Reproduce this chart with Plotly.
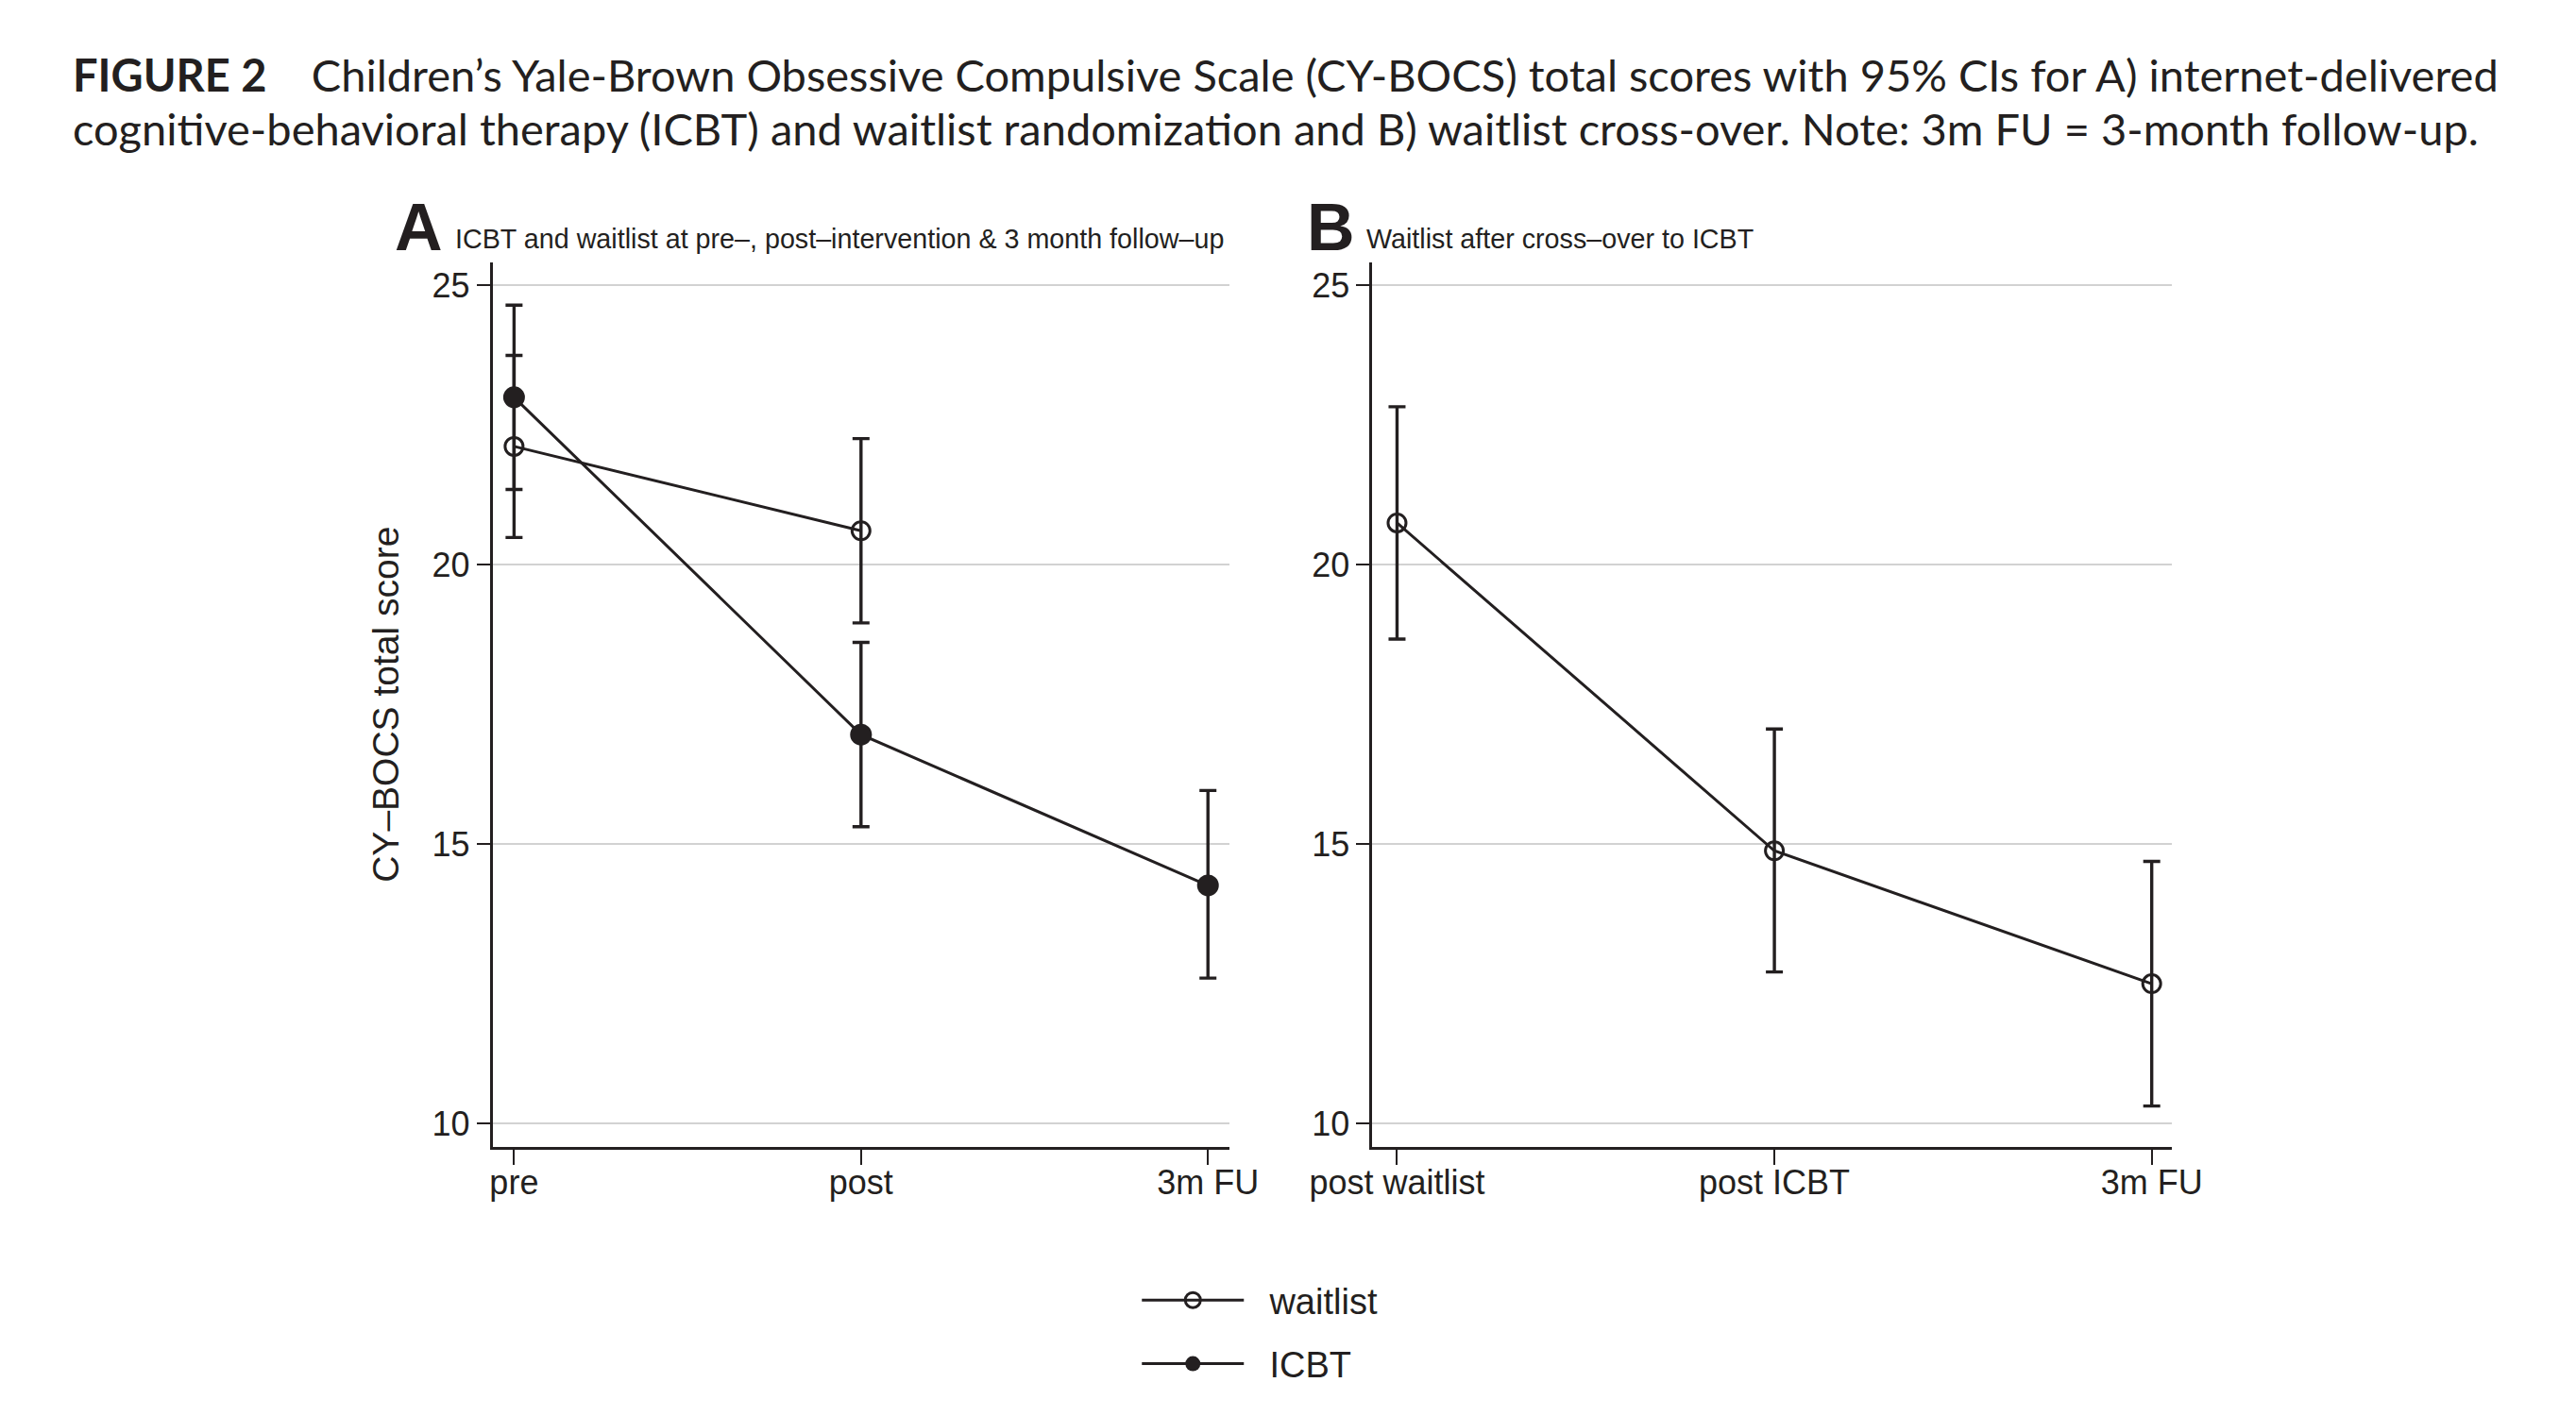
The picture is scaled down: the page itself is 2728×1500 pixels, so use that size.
import plotly.graph_objects as go
from plotly.subplots import make_subplots

# panel A: ICBT vs waitlist
time_a = ["pre", "post", "3m FU"]
waitlist_a = [22.12, 20.61]
waitlist_a_lo = [20.49, 18.96]
waitlist_a_hi = [23.75, 22.26]
icbt_a = [23.00, 16.96, 14.26]
icbt_a_lo = [21.35, 15.31, 12.60]
icbt_a_hi = [24.65, 18.61, 15.96]

# panel B: waitlist after cross-over
time_b = ["post waitlist", "post ICBT", "3m FU"]
cross_b = [20.75, 14.88, 12.50]
cross_b_lo = [18.67, 12.71, 10.31]
cross_b_hi = [22.83, 17.06, 14.69]

ink = "#231f20"
W, H = 2728, 1500


def err(mean, lo, hi):
    return dict(type="data", symmetric=False,
                array=[h - m for m, h in zip(mean, hi)],
                arrayminus=[m - l for m, l in zip(mean, lo)],
                color=ink, thickness=3.4, width=9)


fig = make_subplots(rows=1, cols=2)

fig.add_trace(go.Scatter(
    x=time_a[:len(waitlist_a)], y=waitlist_a, name="\u2004\u2005waitlist", legendgroup="w",
    mode="lines+markers", line=dict(color=ink, width=3),
    marker=dict(symbol="circle-open", size=19, color=ink, line=dict(width=3)),
    error_y=err(waitlist_a, waitlist_a_lo, waitlist_a_hi)), row=1, col=1)

fig.add_trace(go.Scatter(
    x=time_a, y=icbt_a, name="\u2004\u2005ICBT", legendgroup="i",
    mode="lines+markers", line=dict(color=ink, width=3),
    marker=dict(symbol="circle", size=23, color=ink),
    error_y=err(icbt_a, icbt_a_lo, icbt_a_hi)), row=1, col=1)

fig.add_trace(go.Scatter(
    x=time_b, y=cross_b, name="waitlist", showlegend=False,
    mode="lines+markers", line=dict(color=ink, width=3),
    marker=dict(symbol="circle-open", size=19, color=ink, line=dict(width=3)),
    error_y=err(cross_b, cross_b_lo, cross_b_hi)), row=1, col=2)

axis_font = dict(family="Liberation Sans, Arial", size=36, color=ink)
ycommon = dict(range=[9.584, 25.414], tickvals=[10, 15, 20, 25], showgrid=True,
               gridcolor="#d2d2d2", gridwidth=2, zeroline=False,
               showline=True, linecolor=ink, linewidth=3,
               ticks="outside", ticklen=14, tickwidth=2, tickcolor=ink,
               tickfont=axis_font, domain=[0.1956, 0.82])
xcommon = dict(type="category", showgrid=False, zeroline=False,
               showline=True, linecolor=ink, linewidth=3,
               ticks="outside", ticklen=16, tickwidth=2, tickcolor=ink,
               tickfont=axis_font, ticklabelstandoff=-12)

fig.update_xaxes(xcommon)
fig.update_yaxes(ycommon)
fig.update_xaxes(range=[-0.0616, 2.062], domain=[0.1700, 0.4669], row=1, col=1)
fig.update_xaxes(range=[-0.0653, 2.053], domain=[0.5245, 0.8466], row=1, col=2)

title_font = dict(family="Lato, Noto Sans", size=47, color=ink)
sub_font = dict(family="Liberation Sans, Arial", size=28.7, color=ink)
big_font = dict(family="Liberation Sans, Arial", size=70, color=ink)
annos = [
    dict(x=0, y=1 - 101 / H, xanchor="left", yanchor="bottom",
         text="<b>FIGURE 2</b>\u2003 Children\u2019s Yale-Brown Obsessive Compulsive Scale (CY-BOCS) "
              "total scores with 95% CIs for A) internet-delivered", font=title_font),
    dict(x=0, y=1 - 158 / H, xanchor="left", yanchor="bottom",
         text="cognitive-behavioral therapy (ICBT) and waitlist randomization and B) waitlist "
              "cross-over. Note: 3m FU = 3-month follow-up.", font=title_font),
    dict(x=0.1505, y=1 - 274 / H, xanchor="right", yanchor="bottom", text="<b>A</b>",
         font=big_font),
    dict(x=0.1541, y=1 - 263 / H, xanchor="left", yanchor="bottom",
         text="ICBT and waitlist at pre\u2013, post\u2013intervention & 3 month follow\u2013up",
         font=sub_font),
    dict(x=0.5183, y=1 - 274 / H, xanchor="right", yanchor="bottom", text="<b>B</b>",
         font=big_font),
    dict(x=0.5212, y=1 - 263 / H, xanchor="left", yanchor="bottom",
         text="Waitlist after cross\u2013over to ICBT", font=sub_font),
    dict(x=0.1269, y=0.5078, xanchor="center", yanchor="middle", textangle=-90,
         text="CY\u2013BOCS total score",
         font=dict(family="Liberation Sans, Arial", size=39, color=ink)),
]
for a in annos:
    a.update(xref="paper", yref="paper", showarrow=False)

fig.update_layout(
    width=W, height=H, margin=dict(l=0, r=0, t=0, b=0),
    plot_bgcolor="white", paper_bgcolor="white",
    annotations=annos,
    legend=dict(x=0.4297, y=1 - 1338 / H, xanchor="left", yanchor="top",
                font=dict(family="Liberation Sans, Arial", size=38, color=ink),
                itemwidth=108, tracegroupgap=15,
                bgcolor="rgba(0,0,0,0)"),
)

fig.write_html("out.html")
